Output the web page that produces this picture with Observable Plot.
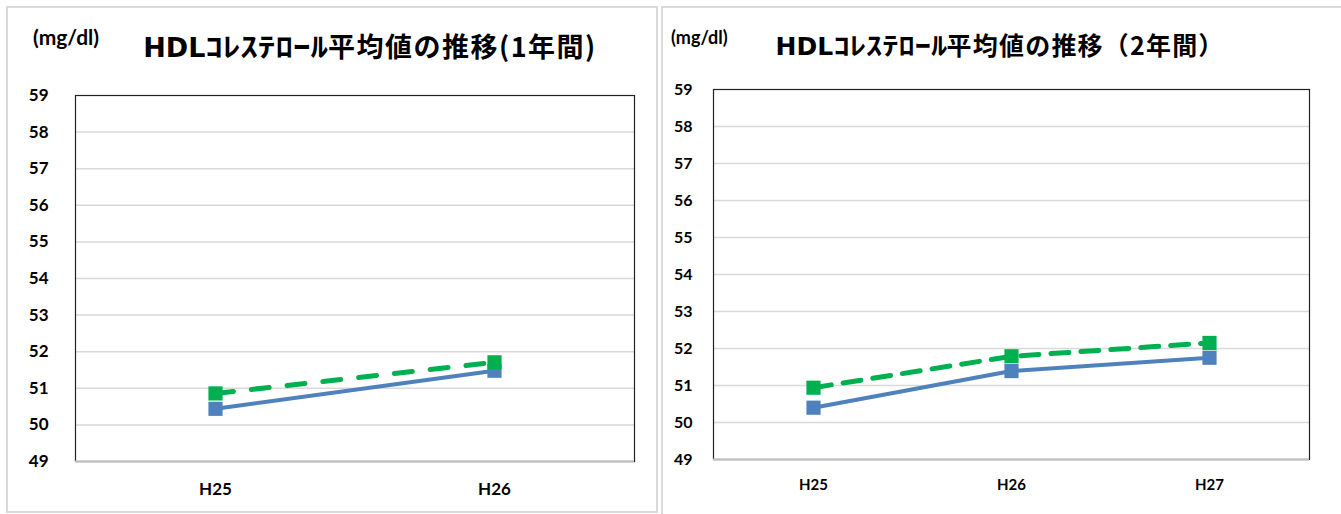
<!DOCTYPE html>
<html><head><meta charset="utf-8">
<script src="https://cdn.jsdelivr.net/npm/d3@7"></script>
<script src="https://cdn.jsdelivr.net/npm/@observablehq/plot@0.6"></script>
<style>
html,body{margin:0;padding:0;background:#fff;}
#page{position:relative;width:1341px;height:514px;overflow:hidden;font-family:Lato,"Noto Sans",sans-serif;}
.panel{position:absolute;box-sizing:border-box;border:2px solid #d9d9d9;background:#fff;}
.title{position:absolute;font-family:"Noto Sans CJK JP",sans-serif;font-weight:bold;color:#000;white-space:nowrap;transform:translateX(-50%);line-height:1;}
.lat{font-family:"DejaVu Sans",sans-serif;}
.kana{display:inline-block;transform:scaleX(1.3);transform-origin:left center;}
.unit{position:absolute;font-family:Lato,"Noto Sans",sans-serif;font-weight:bold;color:#000;white-space:nowrap;line-height:1.2;}
.chart{position:absolute;top:0;}
</style></head>
<body><div id="page">
<div class="panel" style="left:6px;top:6px;width:652px;height:507px;"></div>
<div class="panel" style="left:661px;top:6px;width:700px;height:520px;"></div>
<div class="unit" style="left:33px;top:24px;font-size:21px;">(mg/dl)</div>
<div class="unit" style="left:671px;top:27px;font-size:18px;">(mg/dl)</div>
<div class="title" style="left:370px;top:32px;font-size:27px;"><span class="lat">HDL</span><span class="kana" style="margin-right:28px">ｺﾚｽﾃﾛｰﾙ</span><span style="letter-spacing:1.5px">平均値の推移(1年間)</span></div>
<div class="title" style="left:1000px;top:32px;font-size:25px;"><span class="lat">HDL</span><span class="kana" style="margin-right:26px">ｺﾚｽﾃﾛｰﾙ</span><span style="letter-spacing:1.2px">平均値の推移（2年間）</span></div>
<div id="c1" class="chart" style="left:0px;"></div>
<div id="c2" class="chart" style="left:662px;"></div>
</div>
<script>
const years1 = ["H25", "H26"];
const blue1 = [50.44, 51.48];
const green1 = [50.86, 51.71];
const years2 = ["H25", "H26", "H27"];
const blue2 = [50.40, 51.39, 51.75];
const green2 = [50.94, 51.79, 52.15];
const yTicks = [49, 50, 51, 52, 53, 54, 55, 56, 57, 58, 59];
const gridTicks = [50, 51, 52, 53, 54, 55, 56, 57, 58];

function chart(o) {
  const data = o.years.map((y, i) => ({year: y, blue: o.blue[i], green: o.green[i]}));
  return Plot.plot({
    width: o.width, height: o.height,
    marginLeft: o.ml, marginRight: o.mr, marginTop: o.mt, marginBottom: o.mb,
    style: {fontFamily: "Lato, 'Noto Sans', sans-serif", background: "transparent", overflow: "visible"},
    x: {type: "point", domain: o.years, padding: 0.5, axis: null},
    y: {domain: [49, 59], axis: null},
    marks: [
      Plot.ruleY(gridTicks, {stroke: "#d9d9d9", strokeWidth: 1.5}),
      Plot.frame({stroke: "#222", strokeWidth: 1.2}),
      Plot.ruleY([49], {stroke: "#bfbfbf", strokeWidth: 2}),
      Plot.axisY(yTicks, {tickSize: 0, tickPadding: o.yPad, fontSize: o.yFont, fontWeight: "bold", fill: "#000", label: null}),
      Plot.axisX(o.years, {tickSize: 0, tickPadding: o.xPad, fontSize: o.xFont, fontWeight: "bold", fill: "#000", label: null}),
      Plot.line(data, {x: "year", y: "blue", stroke: "#4f81bd", strokeWidth: 4}),
      Plot.dot(data, {x: "year", y: "blue", symbol: "square", fill: "#4f81bd", r: 8}),
      Plot.line(data, {x: "year", y: "green", stroke: "#00b050", strokeWidth: 5, strokeDasharray: o.dash}),
      Plot.dot(data, {x: "year", y: "green", symbol: "square", fill: "#00b050", r: 8})
    ]
  });
}

document.getElementById("c1").append(chart({
  years: years1, blue: blue1, green: green1,
  width: 660, height: 514, ml: 75, mr: 26, mt: 95, mb: 53,
  yFont: 17, xFont: 17, yPad: 27, xPad: 21, dash: "18,18"
}));
document.getElementById("c2").append(chart({
  years: years2, blue: blue2, green: green2,
  width: 679, height: 514, ml: 51, mr: 32, mt: 89, mb: 55,
  yFont: 16, xFont: 15, yPad: 21, xPad: 20, dash: "18,12"
}));
</script>
</body></html>
